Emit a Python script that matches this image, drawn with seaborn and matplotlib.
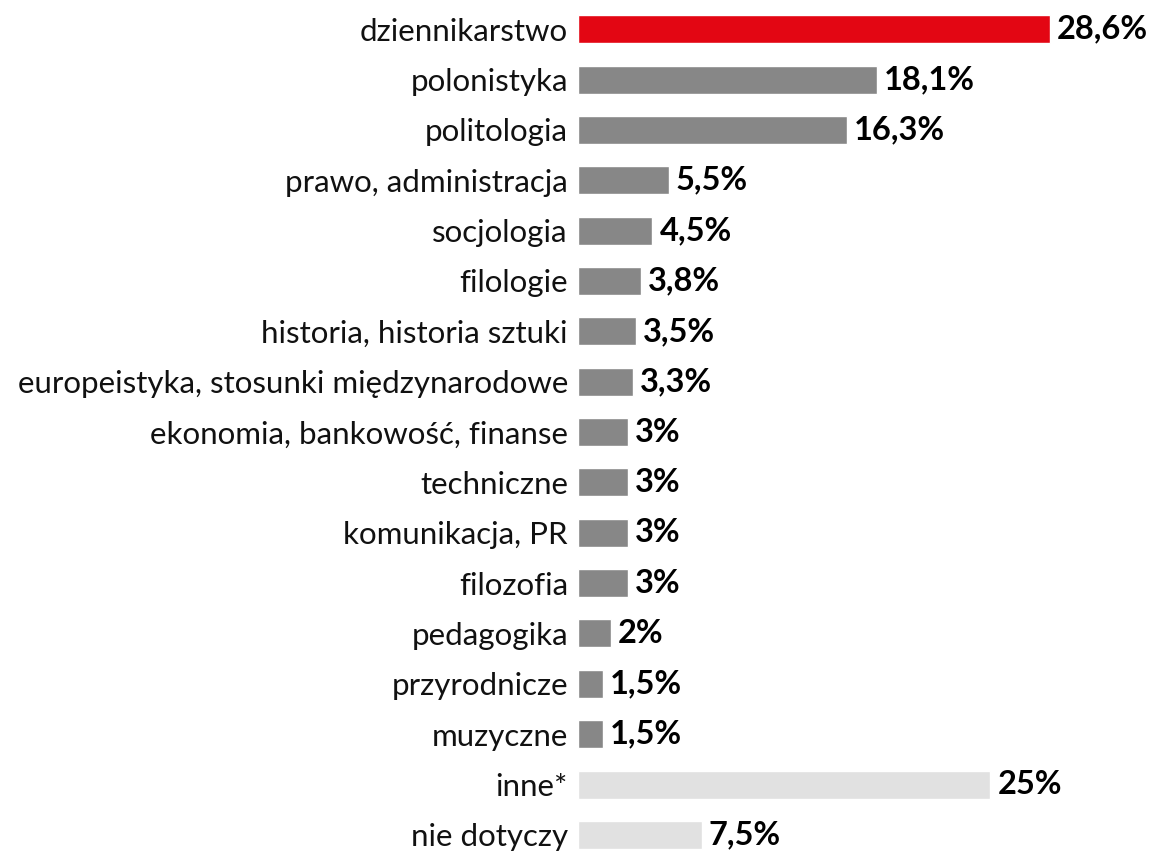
import numpy as np
import pandas as pd
import matplotlib
matplotlib.use('Agg')
import matplotlib.pyplot as plt
import seaborn as sns

categories = ['dziennikarstwo', 'polonistyka', 'politologia', 'prawo, administracja',
              'socjologia', 'filologie', 'historia, historia sztuki',
              'europeistyka, stosunki międzynarodowe', 'ekonomia, bankowość, finanse',
              'techniczne', 'komunikacja, PR', 'filozofia', 'pedagogika',
              'przyrodnicze', 'muzyczne', 'inne*', 'nie dotyczy']
values = [28.6, 18.1, 16.3, 5.5, 4.5, 3.8, 3.5, 3.3, 3, 3, 3, 3, 2, 1.5, 1.5, 25, 7.5]
value_labels = ['28,6%', '18,1%', '16,3%', '5,5%', '4,5%', '3,8%', '3,5%', '3,3%',
                '3%', '3%', '3%', '3%', '2%', '1,5%', '1,5%', '25%', '7,5%']
bar_colors = ['#E30613'] + ['#878787'] * 14 + ['#E1E1E1'] * 2

df = pd.DataFrame({'kierunek': categories, 'procent': values})

sns.set_style('white')
plt.rcParams['font.family'] = ['Lato', 'DejaVu Sans']

fig = plt.figure(figsize=(11.52, 8.51), dpi=100)
ax = fig.add_axes([0.502, 0.0, 0.498, 1.0])

sns.barplot(data=df, x='procent', y='kierunek', hue='kierunek',
            palette=bar_colors, legend=False, orient='h', width=0.557,
            saturation=1, ax=ax)

for i, (v, lab) in enumerate(zip(values, value_labels)):
    ax.annotate(lab, xy=(v, i), xytext=(5, 0), textcoords='offset points',
                ha='left', va='center', fontsize=23.5, fontweight='bold', color='black')

ax.set_xlim(0, 34.8)
ax.set_ylim(16.32, -0.58)
ax.set_xlabel('')
ax.set_ylabel('')
ax.set_xticks([])
ax.tick_params(axis='y', length=0, pad=7.5, labelsize=22.5, labelcolor='#111111')
for s in ax.spines.values():
    s.set_visible(False)

fig.savefig('out.png', dpi=100)
